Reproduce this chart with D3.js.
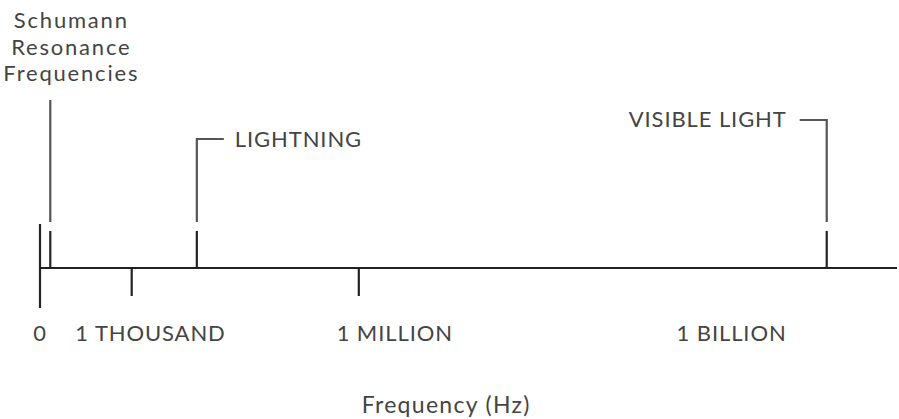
<!DOCTYPE html>
<html>
<head>
<meta charset="utf-8">
<script src="https://cdn.jsdelivr.net/npm/d3@7/dist/d3.min.js"></script>
<style>
  html, body { margin: 0; padding: 0; background: #fff; }
  svg { display: block; }
  text { font-family: "Lato", "Open Sans", sans-serif; fill: #444; letter-spacing: 0.9px; }
</style>
</head>
<body>
<svg id="chart" width="899" height="419"></svg>
<script>
// Schematic positions along the frequency axis (0 = origin, 100 = end of axis)
const tickLabels = ["0", "1 THOUSAND", "1 MILLION", "1 BILLION"];
const tickValues = [0, 10.7, 37.2, null];        // tick mark positions (1 BILLION has no tick)
const tickLabelValues = [0, 12.9, 41.4, 80.7];    // label centre positions
const markerNames = ["Schumann\nResonance\nFrequencies", "LIGHTNING", "VISIBLE LIGHT"];
const markerValues = [1.2, 18.3, 91.8];
const axisTitle = "Frequency (Hz)";

const svg = d3.select("#chart");
const axisY = 268;
const x = d3.scaleLinear().domain([0, 100]).range([40, 897]);

// main axis line
svg.append("line")
  .attr("x1", x(0)).attr("x2", x(100))
  .attr("y1", axisY).attr("y2", axisY)
  .attr("stroke", "#222").attr("stroke-width", 2.2);

// ticks
tickValues.forEach((v, i) => {
  if (v === null) return;
  const isOrigin = i === 0;
  svg.append("line")
    .attr("x1", x(v)).attr("x2", x(v))
    .attr("y1", isOrigin ? 224 : axisY)
    .attr("y2", isOrigin ? 308 : 296)
    .attr("stroke", "#222").attr("stroke-width", 2.2);
});

// tick labels
svg.selectAll("text.tick")
  .data(tickLabels)
  .join("text")
  .attr("class", "tick")
  .attr("x", (d, i) => x(tickLabelValues[i]))
  .attr("y", 341)
  .attr("text-anchor", "middle")
  .style("font-size", "22px")
  .text(d => d);

// markers
const markerLayout = [
  { top: 100, leader: 0, textDx: 21, textY: 28, anchor: "middle", spacing: "1.8px" },
  { top: 139, leader: 27, textDx: 38, textY: 147, anchor: "start", spacing: "0.9px" },
  { top: 120, leader: -27, textDx: -40, textY: 127, anchor: "end", spacing: "0.9px" }
];

markerValues.forEach((v, i) => {
  const L = markerLayout[i];
  const mx = x(v);
  // lower segment (dark)
  svg.append("line")
    .attr("x1", mx).attr("x2", mx)
    .attr("y1", 231).attr("y2", axisY)
    .attr("stroke", "#222").attr("stroke-width", 2.2);
  // upper segment (grey) with leader
  const path = d3.path();
  if (L.leader !== 0) {
    path.moveTo(mx + L.leader, L.top);
    path.lineTo(mx, L.top);
  } else {
    path.moveTo(mx, L.top);
  }
  path.lineTo(mx, 222);
  svg.append("path")
    .attr("d", path.toString())
    .attr("fill", "none")
    .attr("stroke", "#555").attr("stroke-width", 2.2);

  const lines = markerNames[i].split("\n");
  lines.forEach((ln, j) => {
    svg.append("text")
      .attr("text-anchor", L.anchor)
      .style("font-size", "22px")
      .style("letter-spacing", L.spacing)
      .attr("x", mx + L.textDx)
      .attr("y", L.textY + j * 26.5)
      .text(ln);
  });
});

// axis title
svg.append("text")
  .attr("x", x(47.4))
  .attr("y", 413)
  .attr("text-anchor", "middle")
  .style("font-size", "23px")
  .style("letter-spacing", "1.3px")
  .text(axisTitle);
</script>
</body>
</html>
